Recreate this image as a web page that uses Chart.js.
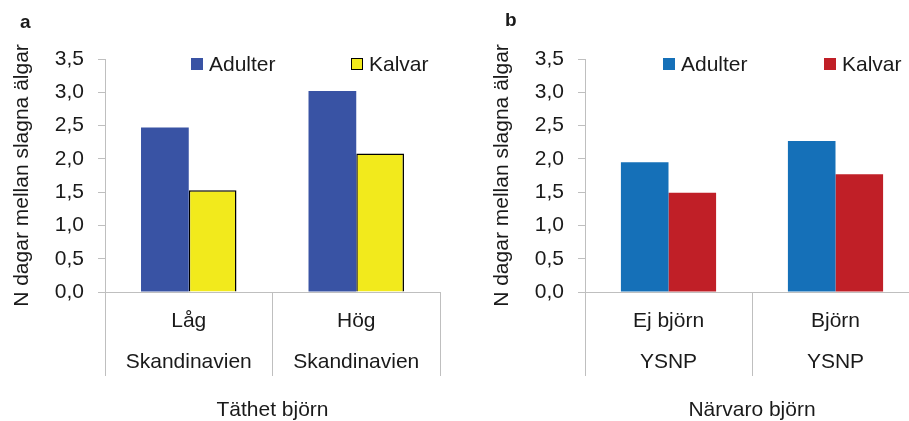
<!DOCTYPE html>
<html>
<head>
<meta charset="utf-8">
<script src="https://cdn.jsdelivr.net/npm/chart.js@4"></script>
<style>
  html, body { margin: 0; padding: 0; background: #fff; overflow: hidden; }
  body { width: 909px; height: 421px; position: relative; font-family: "Liberation Sans", Arial, sans-serif; color: #1a1a1a; }
  .panel { position: absolute; top: 0; height: 421px; }
  .lbl { position: absolute; font-weight: bold; font-size: 19px; line-height: 19px; }
  .leg { position: absolute; font-size: 21px; line-height: 21px; white-space: nowrap; }
  .leg i { display: inline-block; width: 12px; height: 12px; margin-right: 6px; box-sizing: border-box; vertical-align: 1px; }
</style>
</head>
<body>
<div class="panel" style="left:0;width:460px"><canvas id="michartA" width="460" height="421"></canvas></div>
<div class="panel" style="left:460px;width:470px"><canvas id="michartB" width="470" height="421"></canvas></div>
<div class="lbl" style="left:20px;top:12px">a</div>
<div class="lbl" style="left:505px;top:10px">b</div>

<script>
// data
const seriesNames = ['Adulter', 'Kalvar']
const labelsA = [['Låg', 'Skandinavien'], ['Hög', 'Skandinavien']]
const adulterA = [2.47, 3.02]
const kalvarA = [1.53, 2.08]
const labelsB = [['Ej björn', 'YSNP'], ['Björn', 'YSNP']]
const adulterB = [1.95, 2.27]
const kalvarB = [1.49, 1.77]
const yTitle = 'N dagar mellan slagna älgar'
const xTitleA = 'Täthet björn'
const xTitleB = 'Närvaro björn'

const grey = '#bfbfbf'
const txt = '#1a1a1a'
const fam = '"Liberation Sans", Arial, sans-serif'

const grafico = (id, labels, adulter, kalvar, colores, xTitle, axisW, titlePad, padRight) => {
    const data = {
        labels: labels,
        datasets: [{
            label: seriesNames[0],
            data: adulter,
            backgroundColor: colores[0],
            borderWidth: 0
        }, {
            label: seriesNames[1],
            data: kalvar,
            backgroundColor: colores[1],
            borderColor: colores[2],
            borderWidth: colores[2] ? 1.5 : 0
        }]
    }

    const config = {
        type: 'bar',
        data,
        options: {
            responsive: false,
            animation: false,
            events: [],
            categoryPercentage: 0.57,
            barPercentage: 1.0,
            layout: { padding: { top: 59, right: padRight, left: 0, bottom: 0 } },
            plugins: { legend: { display: false }, tooltip: { enabled: false } },
            scales: {
                x: {
                    afterFit: s => { s.height = 129 },
                    border: { color: grey, width: 1 },
                    grid: { offset: true, drawOnChartArea: false, drawTicks: true, tickLength: 84, color: grey },
                    ticks: { color: txt, font: { family: fam, size: 21, lineHeight: 41 / 21 }, padding: -75.5, maxRotation: 0, autoSkip: false },
                    title: { display: true, text: xTitle, color: txt, font: { family: fam, size: 21, lineHeight: 1 }, padding: 0 }
                },
                y: {
                    min: 0,
                    max: 3.5,
                    afterFit: s => { s.width = axisW },
                    border: { color: grey, width: 1 },
                    grid: { drawOnChartArea: false, drawTicks: true, tickLength: 7, color: grey },
                    ticks: {
                        stepSize: 0.5,
                        padding: 14,
                        color: txt,
                        font: { family: fam, size: 21 },
                        callback: v => v.toFixed(1).replace('.', ',')
                    },
                    title: { display: true, text: yTitle, color: txt, font: { family: fam, size: 21, lineHeight: 1.2 }, padding: { top: titlePad, bottom: 0 } }
                }
            }
        }
    }

    return new Chart(document.getElementById(id), config)
}

const leyenda = (lefts, colores) => {
    seriesNames.forEach((n, i) => {
        const d = document.createElement('div')
        d.className = 'leg'
        d.style.left = lefts[i] + 'px'
        d.style.top = '53px'
        const box = document.createElement('i')
        box.style.background = colores[i]
        if (i === 1 && colores[2]) box.style.border = '1.5px solid ' + colores[2]
        d.appendChild(box)
        d.appendChild(document.createTextNode(n))
        document.body.appendChild(d)
    })
}

document.addEventListener("DOMContentLoaded", () => {
    const coloresA = ['#3953a4', '#f2ea1c', '#000000']
    const coloresB = ['#1570b8', '#c01f27', null]
    grafico('michartA', labelsA, adulterA, kalvarA, coloresA, xTitleA, 105, 10, 20)
    grafico('michartB', labelsB, adulterB, kalvarB, coloresB, xTitleB, 125, 29.4, 11)
    leyenda([191, 351], coloresA)
    leyenda([663, 824], coloresB)
})
</script>
</body>
</html>
